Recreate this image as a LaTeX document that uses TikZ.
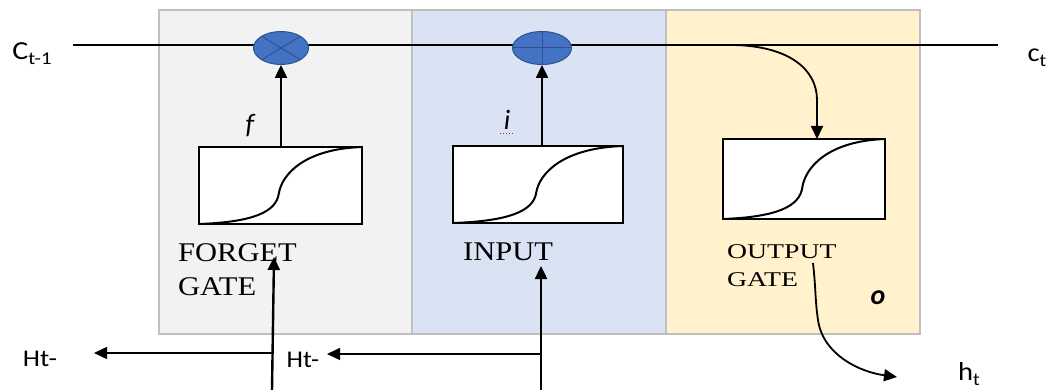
\documentclass[tikz,border=0pt]{standalone}
\usepackage{fontspec}
\usepackage{graphicx}
\setmainfont{Liberation Serif}
\newfontfamily\calfont{Carlito}
\usetikzlibrary{arrows.meta,calc,shapes.geometric}
\definecolor{pgray}{HTML}{F2F2F2}
\definecolor{pblue}{HTML}{DAE3F3}
\definecolor{pyell}{HTML}{FFF2CC}
\definecolor{pedge}{HTML}{BFBFBF}
\definecolor{opfill}{HTML}{4472C4}
\definecolor{opedge}{HTML}{2F528F}
\newcommand{\wide}[2][1.13]{\scalebox{#1}[1]{#2}}
\newcommand{\subt}[1]{{\fontsize{18}{18}\selectfont\raisebox{-5pt}{#1}}}
\begin{document}
\begin{tikzpicture}[x=1pt,y=-1pt,
  panel/.style={draw=pedge,line width=1.5pt},
  sigbox/.style={draw,fill=white,line width=1.4pt,minimum width=163pt,minimum height=77pt,inner sep=0pt},
  opnode/.style={ellipse,draw=opedge,fill=opfill,line width=1pt,minimum height=33pt,inner sep=0pt},
  opline/.style={opedge,line width=1pt},
  gatelbl/.style={font=\fontsize{27}{34}\selectfont,align=left,anchor=north west,inner sep=0pt},
  sanslbl/.style={font=\calfont\fontsize{24}{26}\selectfont,inner sep=0pt},
  itlbl/.style={font=\calfont\itshape\fontsize{28}{30}\selectfont,inner sep=0pt},
  arr/.style={line width=2.4pt,-{Triangle[length=13pt,width=12pt]}},
  thinarr/.style={line width=1.4pt,-{Triangle[length=13pt,width=12pt]}},
  curve/.style={line width=1.8pt,-{Triangle[length=13pt,width=12pt]}}]
\useasboundingbox (0,0) rectangle (1048,390);
% panels
\fill[pgray] (159,10) rectangle (412,334);
\fill[pblue] (412,10) rectangle (666,334);
\fill[pyell] (666,10) rectangle (920,334);
\draw[panel] (159,10) rectangle (412,334);
\draw[panel] (412,10) rectangle (666,334);
\draw[panel] (666,10) rectangle (920,334);
% cell state line
\coordinate (cL) at (73,45);
\coordinate (cR) at (998,45);
\coordinate (tap) at (733,45);
\draw[line width=2pt] (cL) -- (cR);
% operators
\node[opnode,minimum width=55pt] (mul) at (281,48) {};
\draw[opline] ($(mul.center)+(-19,-11.5)$) -- ($(mul.center)+(19,11.5)$);
\draw[opline] ($(mul.center)+(-19,11.5)$) -- ($(mul.center)+(19,-11.5)$);
\node[opnode,minimum width=59pt] (add) at (542,48) {};
\draw[opline] (add.west) -- (add.east);
\draw[opline] (add.north) -- (add.south);
% sigmoid boxes
\node[sigbox] (fg) at (280.5,185.5) {};
\node[sigbox,minimum width=170pt] (ig) at (538,184.5) {};
\node[sigbox,minimum width=162pt,minimum height=80pt] (og) at (804,179) {};
\foreach \b/\w/\h in {fg/81.5/38.5, ig/85/38.5, og/81/40} {
  \draw[line width=2pt,shift={(\b.center)}]
    (-\w,\h) .. controls ({-0.35*\w},{0.95*\h}) and ({-0.05*\w},{0.7*\h}) .. ({-0.02*\w},{0.2*\h})
    .. controls ({0.02*\w},{-0.3*\h}) and ({0.3*\w},{-0.95*\h}) .. (\w,-\h);
}
% gate to operator arrows
\draw[arr] (fg.north -| mul.south) -- (mul.south);
\draw[arr] (ig.north -| add.south) -- (add.south);
% output tap
\coordinate (ogtop) at (817,139);
\draw[curve] (tap) .. controls (790,46) and (817,70) .. (817,100) -- (ogtop);
% labels
\node[itlbl] (fl) at (250,126) {f};
\node[itlbl] (il) at (507,120) {i};
\draw[red,dotted,line width=1pt] (500,134) -- (513,134);
\node[itlbl,font=\calfont\itshape\bfseries\fontsize{28}{30}\selectfont] (ol) at (878,298) {o};
\node[gatelbl] (fgl) at (178,243) {\wide{FORGET}\\\wide{GATE}};
\node[gatelbl] (igl) at (463,243) {\wide{INPUT}};
\node[gatelbl,font=\fontsize{21}{28}\selectfont] (ogl) at (727,244) {\wide[1.32]{OUTPUT}\\\wide[1.32]{GATE}};
% input arrows from below
\coordinate (fb) at (272,390);
\coordinate (ib) at (541,390);
\coordinate (ft) at (274,257);
\coordinate (it) at (541,266);
\draw[arr] (fb) -- (ft);
\draw[arr] (ib) -- (it);
% Ht- arrows
\node[sanslbl] (h1) at (40,359) {\wide[1.15]{Ht-}};
\node[sanslbl] (h2) at (303,360) {\wide[1.1]{Ht-}};
\coordinate (s1) at (272,353);
\coordinate (e1) at (94,353);
\coordinate (s2) at (541,354);
\coordinate (e2) at (327,354);
\draw[thinarr] (s1) -- (e1);
\draw[thinarr] (s2) -- (e2);
% output h_t
\node[sanslbl,font=\calfont\fontsize{26}{28}\selectfont] (ht) at (969,374) {\wide[1.1]{h\subt{t}}};
\coordinate (os) at (813,263);
\coordinate (oe) at (897,377);
\draw[curve] (os) .. controls (816,290) and (815,300) .. (818,320) .. controls (823,355) and (860,372) .. (oe);
% cell state labels
\node[sanslbl,font=\calfont\fontsize{26}{28}\selectfont] (cin) at (32,54) {\wide[1.15]{C\subt{t-1}}};
\node[sanslbl,font=\calfont\fontsize{26}{28}\selectfont] (cout) at (1037,58) {\wide[1.1]{c\subt{t}}};
\end{tikzpicture}
\end{document}
